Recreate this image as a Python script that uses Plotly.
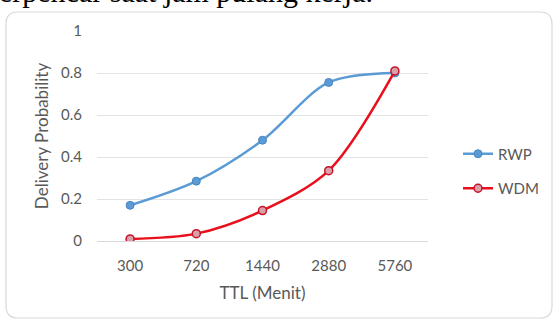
import plotly.graph_objects as go

# Data
ttl_labels = ["300", "720", "1440", "2880", "5760"]
rwp_values = [0.17, 0.285, 0.48, 0.755, 0.80]
wdm_values = [0.01, 0.035, 0.145, 0.335, 0.81]
y_ticks = [0, 0.2, 0.4, 0.6, 0.8, 1]
y_tick_text = ["0", "0.2", "0.4", "0.6", "0.8", "1"]

W, H = 556, 323
ML, MR, MT, MB = 97, 128, 31, 82
PW, PH = W - ML - MR, H - MT - MB

FONT = "Lato, 'Open Sans', sans-serif"
GRAY = "#595959"
FS = 15
FT = 17


def px_x(p):
    return (p - ML) / PW


def px_y(p):
    return (H - MB - p) / PH


fig = go.Figure()
fig.add_trace(go.Scatter(
    x=ttl_labels, y=rwp_values, name="RWP", mode="lines+markers",
    line=dict(color="#5b9bd5", width=2.5, shape="spline", smoothing=0.9),
    marker=dict(symbol="circle", size=8, color="#5b9bd5",
                line=dict(color="#4a86c0", width=1)),
    legendgroup="a",
))
fig.add_trace(go.Scatter(
    x=ttl_labels, y=wdm_values, name="WDM", mode="lines+markers",
    line=dict(color="#e8101c", width=2.5, shape="spline", smoothing=0.9),
    marker=dict(symbol="circle", size=8, color="#d9a0a8",
                line=dict(color="#c8102a", width=1.5)),
    legendgroup="b",
))

# Rounded chart border
x0, x1 = 6, 552
y0, y1 = 12, 318
r = 12
path = (
    f"M {px_x(x0 + r)},{px_y(y0)} L {px_x(x1 - r)},{px_y(y0)} "
    f"Q {px_x(x1)},{px_y(y0)} {px_x(x1)},{px_y(y0 + r)} "
    f"L {px_x(x1)},{px_y(y1 - r)} "
    f"Q {px_x(x1)},{px_y(y1)} {px_x(x1 - r)},{px_y(y1)} "
    f"L {px_x(x0 + r)},{px_y(y1)} "
    f"Q {px_x(x0)},{px_y(y1)} {px_x(x0)},{px_y(y1 - r)} "
    f"L {px_x(x0)},{px_y(y0 + r)} "
    f"Q {px_x(x0)},{px_y(y0)} {px_x(x0 + r)},{px_y(y0)} Z"
)
fig.add_shape(type="path", path=path, xref="paper", yref="paper",
              line=dict(color="#d9d9d9", width=1.2), layer="below")

# Tail of the preceding paragraph line
fig.add_annotation(
    text="erpencar saat jam pulang kerja.",
    xref="paper", yref="paper", x=px_x(-3), y=px_y(10),
    xanchor="left", yanchor="bottom", showarrow=False,
    font=dict(family="'Liberation Serif', 'DejaVu Serif', serif", size=30, color="#000000"),
)

fig.update_layout(
    width=W, height=H,
    margin=dict(l=ML, r=MR, t=MT, b=MB),
    paper_bgcolor="white", plot_bgcolor="white",
    font=dict(family=FONT, size=FS, color=GRAY),
    showlegend=True,
    legend=dict(x=px_x(458), y=px_y(171), xanchor="left", yanchor="middle",
                tracegroupgap=12, font=dict(size=FS, color=GRAY),
                bgcolor="rgba(0,0,0,0)"),
    xaxis=dict(type="category", range=[-0.5, 4.5], showgrid=False,
               showline=False, zeroline=False, ticks="",
               ticklabelstandoff=14,
               tickfont=dict(size=FS, color=GRAY),
               title=dict(text="TTL (Menit)", font=dict(size=FT, color=GRAY), standoff=14)),
    yaxis=dict(range=[0, 1.0], tickvals=y_ticks, ticktext=y_tick_text,
               showgrid=True, gridcolor="#e3e3e3", gridwidth=1,
               zeroline=True, zerolinecolor="#d9d9d9", zerolinewidth=1,
               showline=False, ticks="", ticklabelstandoff=14,
               tickfont=dict(size=FS, color=GRAY),
               title=dict(text="Delivery Probability", font=dict(size=FT, color=GRAY), standoff=8)),
)

fig.write_html("out.html")
